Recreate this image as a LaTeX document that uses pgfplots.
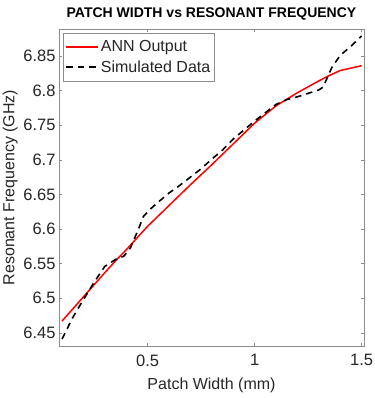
\documentclass[border=0pt]{standalone}
\usepackage{fontspec}
\setmainfont{Liberation Sans}
\usepackage{pgfplots}
\pgfplotsset{compat=1.18}
\definecolor{axgray}{gray}{0.55}
\definecolor{txtgray}{gray}{0.15}
\begin{document}
\begin{tikzpicture}
\begin{axis}[
  scale only axis,
  width=305pt, height=317pt,
  xmin=0.086, xmax=1.511,
  ymin=6.431, ymax=6.889,
  xtick={0.5,1,1.5},
  xticklabels={0.5,1,1.5},
  ytick={6.45,6.5,6.55,6.6,6.65,6.7,6.75,6.8,6.85},
  yticklabels={6.45,6.5,6.55,6.6,6.65,6.7,6.75,6.8,6.85},
  tick align=inside,
  major tick length=3pt,
  axis line style={axgray, line width=0.6pt},
  every tick/.style={axgray, line width=0.6pt},
  ticklabel style={font=\fontsize{16.5}{19}\selectfont, text=txtgray},
  xticklabel shift=5pt,
  /pgf/number format/assume math mode=true,
  xlabel={Patch Width (mm)},
  ylabel={Resonant Frequency (GHz)},
  label style={font=\fontsize{16}{19}\selectfont, text=txtgray},
  xlabel style={at={(axis description cs:0.5,0)}, anchor=base, yshift=-43pt},
  ylabel style={at={(axis description cs:-0.146,0.5)}, anchor=base},
  title={PATCH WIDTH vs RESONANT FREQUENCY},
  title style={font=\fontsize{14}{16}\selectfont\bfseries, text=black, at={(axis description cs:0.5,1)}, anchor=base, yshift=5.7pt},
  legend style={at={(axis description cs:0,1)}, anchor=north west, xshift=4pt, yshift=-4pt,
    draw=axgray, line width=0.6pt, font=\fontsize{16}{19}\selectfont, text=txtgray,
    inner xsep=2pt, inner ysep=5.5pt, row sep=3pt},
  legend cell align=left,
  legend image code/.code={\draw[#1] (0pt,0pt) -- (32pt,0pt);},
]
\addplot[red, line width=1.5pt] coordinates {
(0.10,6.467) (0.20,6.502) (0.30,6.537) (0.35,6.554) (0.40,6.570) (0.45,6.587)
(0.50,6.604) (0.60,6.634) (0.70,6.664) (0.80,6.693) (0.90,6.723) (1.00,6.753)
(1.10,6.778) (1.20,6.797) (1.30,6.814) (1.35,6.822) (1.40,6.829) (1.50,6.836)
};
\addlegendentry{ANN Output}
\addplot[black, line width=1.6pt, dash pattern=on 6.5pt off 5pt] coordinates {
(0.10,6.441) (0.15,6.472) (0.20,6.498) (0.25,6.523) (0.30,6.546) (0.35,6.556)
(0.39,6.561) (0.42,6.573) (0.46,6.602) (0.48,6.618) (0.51,6.628) (0.55,6.639)
(0.60,6.652) (0.65,6.663) (0.70,6.675) (0.75,6.687) (0.80,6.701) (0.85,6.714)
(0.90,6.730) (0.95,6.743) (1.00,6.756) (1.05,6.768) (1.10,6.780) (1.15,6.787)
(1.20,6.791) (1.25,6.796) (1.30,6.801) (1.32,6.805) (1.36,6.833) (1.40,6.851)
(1.45,6.864) (1.50,6.879)
};
\addlegendentry{Simulated Data}
\end{axis}
\pgfresetboundingbox
\useasboundingbox ([xshift=-59pt,yshift=-52pt]current axis.south west) rectangle ([xshift=10pt,yshift=29pt]current axis.north east);
\end{tikzpicture}
\end{document}
